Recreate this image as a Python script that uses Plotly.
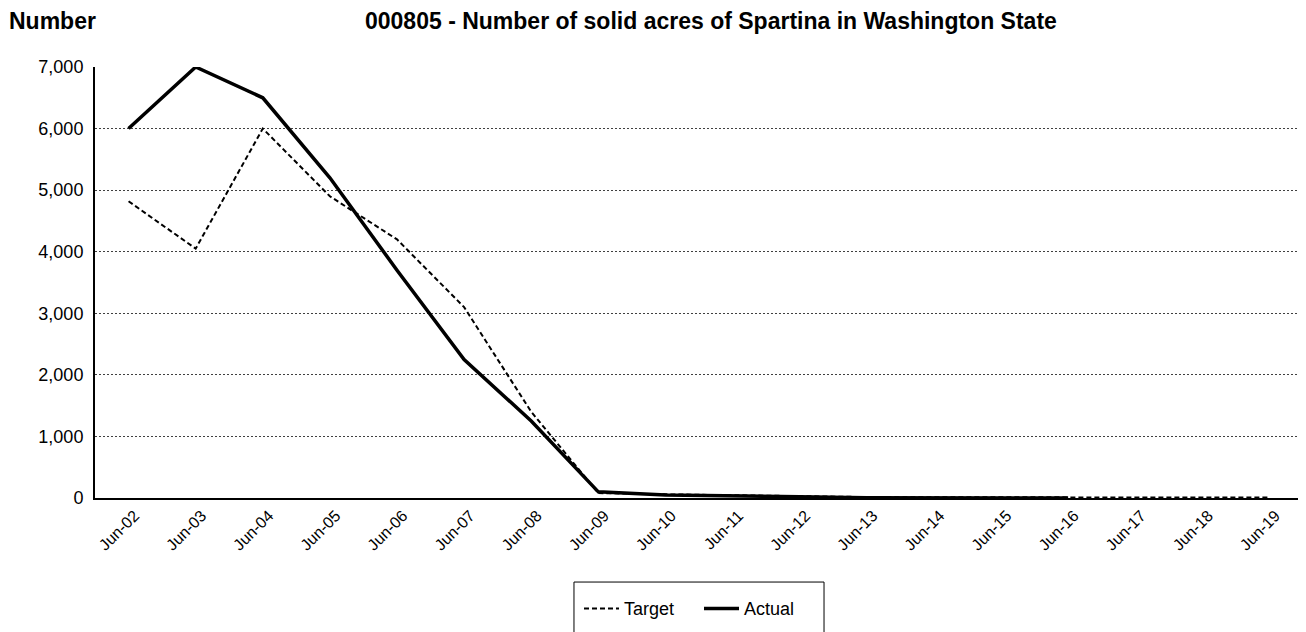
import plotly.graph_objects as go

categories = ["Jun-02", "Jun-03", "Jun-04", "Jun-05", "Jun-06", "Jun-07", "Jun-08", "Jun-09",
              "Jun-10", "Jun-11", "Jun-12", "Jun-13", "Jun-14", "Jun-15", "Jun-16", "Jun-17",
              "Jun-18", "Jun-19"]
target = [4820, 4050, 6000, 4900, 4200, 3100, 1400, 80, 60, 40, 30, 15, 10, 10, 10, 10, 10, 10]
actual = [6000, 7000, 6500, 5200, 3700, 2250, 1250, 100, 50, 30, 20, 5, 5, 10, 0]

font_family = "Liberation Sans, Arial, sans-serif"

fig = go.Figure()
fig.add_trace(go.Scatter(
    x=categories, y=target, name="Target", mode="lines",
    line=dict(color="black", width=2, dash="5px,3px"),
))
fig.add_trace(go.Scatter(
    x=categories[:len(actual)], y=actual, name="Actual", mode="lines",
    line=dict(color="black", width=3.5),
))

# right edge of the plot frame
fig.add_shape(type="line", xref="paper", yref="paper", x0=1, x1=1, y0=0, y1=1,
              line=dict(color="#404040", width=1))
# legend box (drawn by hand so it can run off the bottom like the original)
fig.add_shape(type="rect", xref="paper", yref="paper", x0=0.3965, x1=0.6035,
              y0=-0.33, y1=-0.195, line=dict(color="black", width=1), fillcolor="white",
              layer="below")

# the page body has an 8px margin, so the figure is shrunk by that much
fig.update_layout(
    width=1298, height=624,
    margin=dict(l=87, r=3, t=59, b=134, autoexpand=False),
    paper_bgcolor="white", plot_bgcolor="white",
    font=dict(family=font_family, size=16, color="black"),
    showlegend=True,
    legend=dict(
        orientation="h", x=0.5, xanchor="center", y=-0.214, yanchor="top",
        borderwidth=0, bgcolor="rgba(0,0,0,0)", font=dict(size=18),
        itemwidth=35, entrywidth=70,
    ),
    annotations=[
        dict(text="<b>Number</b>", xref="paper", yref="paper", x=-0.073, y=1.107,
             xanchor="left", yanchor="middle", showarrow=False, font=dict(size=23)),
        dict(text="<b>000805 - Number of solid acres of Spartina in Washington State</b>",
             xref="paper", yref="paper", x=0.51, y=1.107, xanchor="center", yanchor="middle",
             showarrow=False, font=dict(size=23)),
    ],
    xaxis=dict(
        type="category", range=[-0.5, 17.5],
        showgrid=False, zeroline=False,
        showline=True, linecolor="black", linewidth=2,
        tickangle=-45, ticks="", tickfont=dict(size=16), ticklabelshift=6,
    ),
    yaxis=dict(
        range=[0, 7000], dtick=1000, tickformat=",d",
        showgrid=True, gridcolor="#404040", griddash="2px,2px", gridwidth=1,
        zeroline=False,
        showline=True, linecolor="black", linewidth=2,
        ticks="", ticklen=0, tickfont=dict(size=18), ticklabelstandoff=6,
    ),
)

fig.write_html("out.html")
